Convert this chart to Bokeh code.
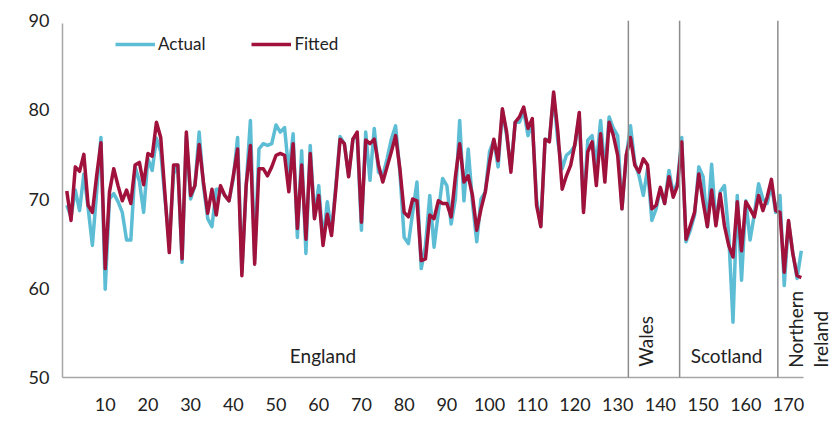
from math import pi
from bokeh.plotting import figure
from bokeh.models import Range1d, FixedTicker, Span, Label, Legend, LegendItem
from bokeh.embed import file_html
from bokeh.resources import INLINE

case = list(range(1, 174))

actual = [
    69.3, 68.0, 71.0, 68.7, 72.8, 69.0, 64.8, 70.8, 76.9, 59.9,
    70.0, 70.6, 69.7, 68.5, 65.4, 65.4, 73.6, 72.0, 68.5, 74.5,
    73.2, 76.8, 75.3, 70.0, 65.0, 72.8, 73.8, 62.9, 77.0, 70.0,
    71.5, 77.5, 71.5, 67.8, 66.9, 71.1, 71.1, 70.4, 69.8, 72.3,
    76.9, 61.8, 71.5, 78.8, 63.3, 75.6, 76.2, 76.0, 76.2, 78.3,
    77.5, 78.0, 73.0, 77.3, 65.7, 75.4, 63.9, 76.0, 68.0, 71.5,
    65.2, 69.7, 66.3, 71.5, 77.0, 76.2, 72.6, 76.7, 77.1, 66.5,
    77.5, 72.1, 77.9, 73.0, 72.6, 74.5, 76.7, 78.2, 73.0, 65.7,
    65.0, 68.5, 71.9, 62.2, 64.8, 70.4, 64.6, 68.5, 72.3, 71.5,
    67.2, 70.0, 78.8, 69.8, 75.6, 69.6, 65.2, 70.0, 70.8, 75.3,
    76.6, 73.6, 79.9, 77.1, 73.4, 78.6, 78.6, 79.9, 77.1, 78.6,
    70.0, 67.0, 76.7, 76.6, 81.6, 76.4, 73.4, 74.9, 75.3, 76.0,
    79.4, 68.9, 76.6, 77.1, 73.8, 78.8, 73.0, 79.2, 77.9, 77.1,
    68.9, 74.7, 78.2, 74.1, 72.6, 70.4, 73.4, 67.6, 68.9, 71.1,
    69.5, 73.2, 70.6, 71.9, 76.9, 65.2, 66.5, 68.2, 73.6, 72.5,
    66.9, 73.9, 67.2, 70.8, 71.5, 66.0, 56.2, 70.4, 60.9, 69.8,
    65.4, 68.3, 71.7, 70.0, 69.5, 71.6, 68.5, 70.4, 60.3, 67.4,
    64.0, 61.1, 64.2,
]

fitted = [
    70.9, 67.6, 73.6, 73.1, 75.0, 69.3, 68.5, 72.6, 76.3, 62.2,
    70.8, 73.4, 71.5, 69.8, 71.0, 69.5, 73.8, 74.1, 71.6, 75.1,
    74.8, 78.6, 76.9, 70.5, 64.0, 73.8, 73.8, 63.3, 77.5, 70.4,
    71.5, 76.1, 71.9, 68.4, 71.1, 68.2, 71.5, 70.4, 69.8, 72.6,
    75.6, 61.4, 71.5, 76.0, 62.7, 73.4, 73.4, 72.6, 73.6, 74.9,
    75.1, 74.9, 70.8, 76.2, 66.7, 73.8, 65.5, 75.1, 67.8, 70.4,
    64.8, 68.3, 65.9, 71.1, 76.7, 76.2, 72.5, 76.7, 77.5, 67.4,
    76.6, 76.2, 76.7, 73.8, 71.9, 73.6, 75.3, 77.1, 73.4, 68.5,
    68.0, 70.0, 69.8, 63.1, 63.3, 68.2, 67.8, 69.8, 69.5, 69.5,
    68.0, 72.5, 76.2, 71.9, 72.6, 70.4, 66.5, 68.9, 70.8, 74.1,
    76.7, 74.3, 80.1, 77.5, 73.0, 78.6, 79.2, 80.3, 77.9, 79.0,
    69.3, 66.9, 76.7, 76.4, 82.0, 77.5, 71.1, 72.6, 73.8, 76.2,
    79.7, 68.5, 75.3, 76.4, 71.5, 77.3, 71.9, 78.6, 77.1, 74.9,
    68.9, 74.9, 76.9, 73.8, 73.0, 74.5, 73.8, 68.9, 69.3, 71.3,
    69.5, 72.5, 70.2, 71.5, 76.4, 65.5, 67.0, 68.5, 72.8, 69.7,
    66.9, 71.0, 67.0, 70.6, 67.0, 64.8, 63.5, 69.7, 64.2, 69.7,
    68.9, 68.0, 70.4, 68.7, 70.2, 72.2, 68.7, 68.5, 61.8, 67.6,
    63.9, 61.4, 61.2,
]

x_ticks = [10, 20, 30, 40, 50, 60, 70, 80, 90, 100, 110, 120, 130, 140, 150, 160, 170]
y_ticks = [50, 60, 70, 80, 90]

region_bounds = [132.5, 144.5, 167.5]
region_names = ["England", "Wales", "Scotland", "Northern", "Ireland"]
region_x = [61, 136.5, 155.5, 171.6, 177.5]
region_y = [52.5, 51.2, 52.5, 51.1, 51.1]
region_rot = [False, True, False, True, True]

FONT = "Lato"
BLUE = "#5cbdd4"
RED = "#a0123c"

p = figure(width=832, height=418, output_backend="svg", toolbar_location=None,
           x_range=Range1d(0, 180.3), y_range=Range1d(50, 90),
           min_border_left=62, min_border_right=0, min_border_top=20, min_border_bottom=41)

p.outline_line_color = None
p.xgrid.visible = False
p.ygrid.visible = False
p.background_fill_color = "white"
p.border_fill_color = "white"

for ax in (p.xaxis, p.yaxis):
    ax.axis_line_color = "#a6a6a6"
    ax.axis_line_width = 1.5
    ax.major_tick_line_color = None
    ax.minor_tick_line_color = None
    ax.major_label_text_font = FONT
    ax.major_label_text_font_size = "18px"
    ax.major_label_text_color = "#222222"

p.xaxis.ticker = FixedTicker(ticks=x_ticks)
p.yaxis.ticker = FixedTicker(ticks=y_ticks)
p.xaxis.bounds = (0, 173.5)
p.yaxis.bounds = (50, 89.7)
p.xaxis.major_label_standoff = 14
p.yaxis.major_label_standoff = 7

for b in region_bounds:
    p.add_layout(Span(location=b, dimension="height", line_color="#8c8c8c", line_width=1.5))

r_a = p.line(case, actual, line_color=BLUE, line_width=3.5, line_join="round")
r_f = p.line(case, fitted, line_color=RED, line_width=3.5, line_join="round")

for name, xx, yy, rot in zip(region_names, region_x, region_y, region_rot):
    if rot:
        lab = Label(x=xx, y=yy, text=name, angle=pi / 2, text_align="left",
                    text_baseline="middle", text_font=FONT, text_font_size="19px",
                    text_color="#222222")
    else:
        lab = Label(x=xx, y=yy, text=name, text_align="center",
                    text_baseline="middle", text_font=FONT, text_font_size="19px",
                    text_color="#222222")
    p.add_layout(lab)

legend = Legend(items=[LegendItem(label="Actual", renderers=[r_a]),
                       LegendItem(label="Fitted", renderers=[r_f])],
                orientation="horizontal", location=(53, 323),
                glyph_width=40, glyph_height=20, label_standoff=3, spacing=46,
                padding=0, margin=0, border_line_color=None, background_fill_alpha=0,
                label_text_font=FONT, label_text_font_size="17px",
                label_text_color="#222222")
p.add_layout(legend)

open("out.html", "w").write(file_html(p, INLINE))
